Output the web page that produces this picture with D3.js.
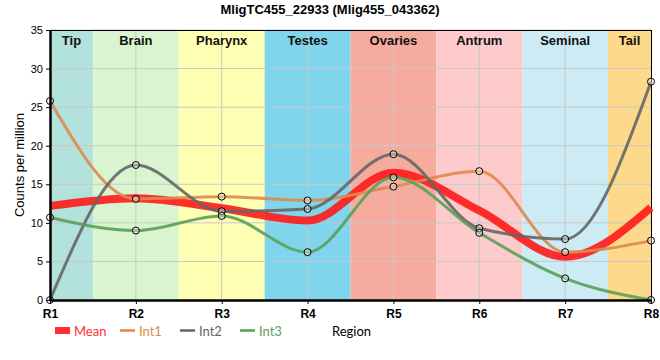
<!DOCTYPE html>
<html><head><meta charset="utf-8">
<script src="https://cdn.jsdelivr.net/npm/d3@7"></script>
<style>body{margin:0;background:#fff;} svg{display:block;font-family:"Liberation Sans",Arial,sans-serif;}</style>
</head><body><svg id="c" width="660" height="360"></svg>
<script>
const regions = ["R1","R2","R3","R4","R5","R6","R7","R8"];
const bandNames = ["Tip","Brain","Pharynx","Testes","Ovaries","Antrum","Seminal","Tail"];
const bandColors = ["#b3e2dd","#d8f5d0","#ffffb3","#80d4ec","#f5ab9d","#fdcbcb","#cdebf5","#fdd98b"];
const int1 = [25.8, 13.1, 13.4, 12.9, 14.7, 16.7, 6.2, 7.7];
const int2 = [0, 17.5, 11.5, 11.8, 18.9, 9.3, 7.9, 28.3];
const int3 = [10.7, 9.0, 10.9, 6.2, 15.9, 8.7, 2.8, 0];
const meanVals = [12.2, 13.2, 11.9, 10.3, 16.5, 11.6, 5.6, 12.0];
const yTicks = [0,5,10,15,20,25,30,35];

const svg = d3.select("#c");
const L=50, R=651, T=30, B=300;
const x = d3.scalePoint().domain(regions).range([L,R]);
const y = d3.scaleLinear().domain([0,35]).range([B,T]);
const step = x.step();

// bands
const g = svg.append("g");
bandNames.forEach((n,i)=>{
  const cx = x(regions[i]);
  const x0 = Math.max(L, cx-step/2), x1 = Math.min(R, cx+step/2);
  g.append("rect").attr("x",x0).attr("y",T).attr("width",x1-x0).attr("height",B-T).attr("fill",bandColors[i]);
});
// grid
svg.append("g").selectAll("line.h").data(yTicks.slice(1)).join("line")
  .attr("x1",L).attr("x2",R).attr("y1",d=>y(d)).attr("y2",d=>y(d))
  .attr("stroke","#c8c8c8").attr("stroke-width",1);
svg.append("g").selectAll("line.v").data(regions.slice(1,-1)).join("line")
  .attr("x1",d=>x(d)).attr("x2",d=>x(d)).attr("y1",T).attr("y2",B)
  .attr("stroke","#c8c8c8").attr("stroke-width",1);
// band labels
bandNames.forEach((n,i)=>{
  const cx = x(regions[i]);
  const x0 = Math.max(L, cx-step/2), x1 = Math.min(R, cx+step/2);
  svg.append("text").attr("x",(x0+x1)/2).attr("y",45).attr("text-anchor","middle")
    .attr("font-weight","bold").attr("font-size",13).attr("fill","#111").text(n);
});

// frame top/right
svg.append("line").attr("x1",L).attr("x2",R).attr("y1",T+0.5).attr("y2",T+0.5).attr("stroke","#000");
svg.append("line").attr("x1",R+0.5).attr("x2",R+0.5).attr("y1",T).attr("y2",B).attr("stroke","#000");

const line = d3.line().x((d,i)=>x(regions[i])).y(d=>y(d)).curve(d3.curveMonotoneX);
svg.append("path").attr("d",line(meanVals)).attr("fill","none").attr("stroke","#ff1a1a").attr("stroke-opacity",0.9).attr("stroke-width",8);
const series = [[int1,"#dd8a4c"],[int2,"#666666"],[int3,"#5aa05a"]];
series.forEach(([vals,col])=>{
  svg.append("path").attr("d",line(vals)).attr("fill","none").attr("stroke",col).attr("stroke-width",3).attr("stroke-opacity",0.9);
});
series.forEach(([vals,col])=>{
  svg.append("g").selectAll("circle").data(vals).join("circle")
    .attr("cx",(d,i)=>x(regions[i])).attr("cy",d=>y(d)).attr("r",3.5)
    .attr("fill","rgba(255,255,255,0.35)").attr("stroke","#000").attr("stroke-width",1);
});

// axes
const ya = svg.append("g").attr("transform",`translate(${L},0)`)
  .call(d3.axisLeft(y).tickValues(yTicks).tickSize(4).tickSizeOuter(0));
ya.select(".domain").attr("stroke-width",2.5);
ya.selectAll("text").attr("font-size",11).attr("font-family","Liberation Sans, Arial").attr("fill","#000");
const xa = svg.append("g").attr("transform",`translate(0,${B})`)
  .call(d3.axisBottom(x).tickSize(4).tickSizeOuter(0));
xa.select(".domain").attr("stroke-width",2.5);
xa.selectAll("text").attr("font-size",12).attr("font-weight","bold").attr("font-family","Liberation Sans, Arial").attr("fill","#000").attr("dy","0.9em");

// title
svg.append("text").attr("x",330).attr("y",14).attr("text-anchor","middle").attr("font-weight","bold").attr("font-size",13).text("MligTC455_22933 (Mlig455_043362)");
// y label
svg.append("text").attr("transform","translate(24,165) rotate(-90)").attr("text-anchor","middle").attr("font-size",13).text("Counts per million");
// x label
svg.append("text").attr("x",332).attr("y",336).attr("font-size",13).attr("font-family","Lato, sans-serif").text("Region");

// legend
const legend = [["Mean","#ff3030",true],["Int1","#dd8a4c",false],["Int2","#666666",false],["Int3","#5aa05a",false]];
const lx = [55,120,180,240];
legend.forEach(([n,c,thick],i)=>{
  if(thick) svg.append("rect").attr("x",lx[i]).attr("y",327).attr("width",15).attr("height",7).attr("fill",c);
  else svg.append("line").attr("x1",lx[i]).attr("x2",lx[i]+15).attr("y1",330.5).attr("y2",330.5).attr("stroke",c).attr("stroke-width",2.5);
  svg.append("text").attr("x",lx[i]+19).attr("y",335.5).attr("font-size",13).attr("font-family","Lato, sans-serif").attr("fill",c).text(n);
});
</script></body></html>
